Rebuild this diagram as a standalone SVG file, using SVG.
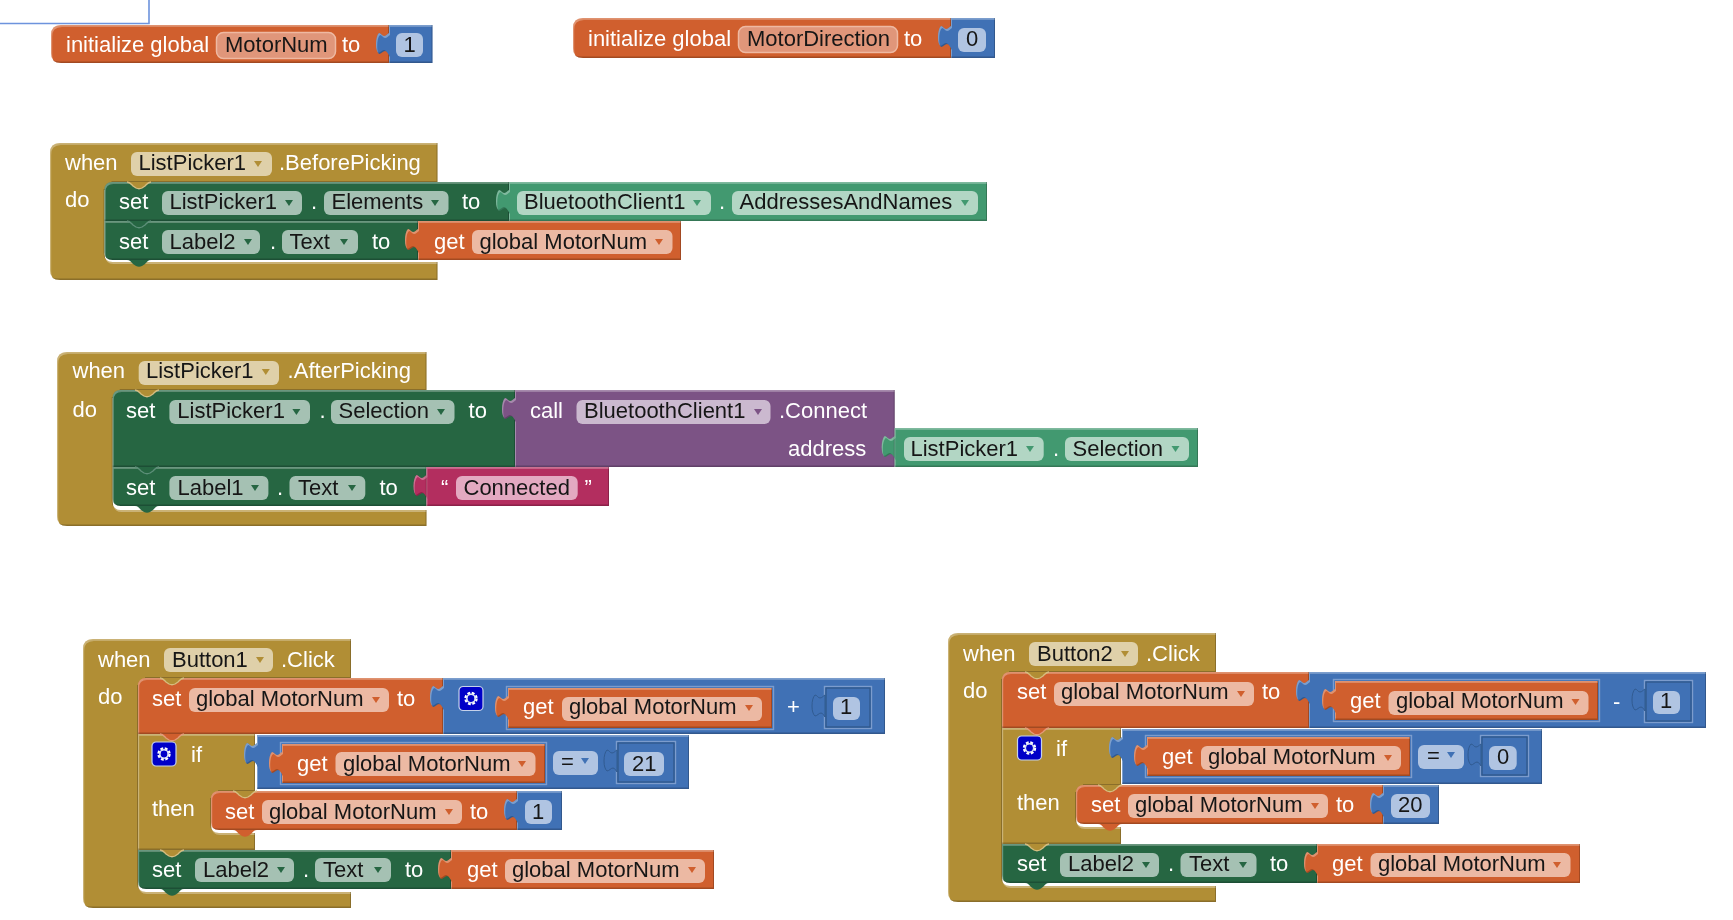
<svg xmlns="http://www.w3.org/2000/svg" width="1733" height="920" viewBox="0 0 1733 920">
<style>
text{font-family:"Liberation Sans",Arial,sans-serif;font-size:22px}
.w{fill:#fff}.k{fill:#161616}
.or{fill:#d05f2d}.bl{fill:#3f71b5}.go{fill:#b18e35}.dg{fill:#266643}.lg{fill:#439970}.pu{fill:#7c5385}.pk{fill:#b32d5e}
.s{filter:url(#bv)}
.por{fill:#ecb9a3}.pbl{fill:#b0c4e2}.pgo{fill:#dfd0a9}.pdg{fill:#a5c1b3}.plg{fill:#b2d6c4}.ppu{fill:#cbb9cf}.ppk{fill:#e3a9c1}
.pin{fill:#e0967a;stroke:#eeb9a2;stroke-width:1.5}
.ao{fill:#d05f2d}.ab{fill:#3f71b5}.ag{fill:#b18e35}.ad{fill:#266643}.al{fill:#439970}.ap{fill:#7c5385}
.ins{fill:none;stroke:#2e5688;stroke-width:1.2}
.ins2{fill:none;stroke:#7c9ccd;stroke-width:1.4}
.nd{stroke:#5d8f78;stroke-width:1.3}.no{stroke:#e39a7a;stroke-width:1.3}.ng{stroke:#d5bd80;stroke-width:1.3}
</style>
<defs>
<filter id="bv" x="-3%" y="-6%" width="106%" height="112%" color-interpolation-filters="sRGB">
<feOffset in="SourceAlpha" dx="1.2" dy="1.8" result="o1"/>
<feComposite in="SourceAlpha" in2="o1" operator="out" result="e1"/>
<feFlood flood-color="#fff" flood-opacity=".32"/>
<feComposite in2="e1" operator="in" result="hl"/>
<feOffset in="SourceAlpha" dx="-1" dy="-1.5" result="o2"/>
<feComposite in="SourceAlpha" in2="o2" operator="out" result="e2"/>
<feFlood flood-color="#000" flood-opacity=".22"/>
<feComposite in2="e2" operator="in" result="sh"/>
<feMerge><feMergeNode in="SourceGraphic"/><feMergeNode in="hl"/><feMergeNode in="sh"/></feMerge>
</filter>
<filter id="soft" x="0" y="0" width="100%" height="100%" filterUnits="userSpaceOnUse" primitiveUnits="userSpaceOnUse"><feGaussianBlur stdDeviation=".45"/></filter>
<path id="tab" d="M0,8 C-2,9 -3,11 -5,11 C-7,11 -8,8 -10,8 C-12,10 -13,14 -13,19 C-13,24 -12,27 -10,29 C-8,29 -6,26 -4,26 C-2,26 -1,29 0,30 z"/>
<path id="bump" d="M0,0 C3,0 4,2 6,4 L9,6 C11,7 13,7 15,6 L18,4 C20,2 21,0 24,0"/>
<path id="ar" d="M-4,-3 H4 L0,3 z"/>
<g id="gear"><rect x="0" y="0" width="24" height="24" rx="4" fill="#0000c8" stroke="#c6d2ea" stroke-width="1.2"/><circle cx="12" cy="12" r="5.2" fill="none" stroke="#fff" stroke-width="3" stroke-dasharray="2.6 1.5"/><circle cx="12" cy="12" r="4.2" fill="none" stroke="#d8e0f4" stroke-width="1.6"/></g>
</defs>
<g filter="url(#soft)">
<rect width="1733" height="920" fill="#fff"/>
<path d="M0,23.5 H149 V0" fill="none" stroke="#6d93dd" stroke-width="1.6"/>

<g id="init-motornum">
<path class="s or" d="M61,25 H389 V63 H61 Q51,63 51,53 V35 Q51,25 61,25z"/>
<g class="s bl"><rect x="389" y="25" width="43.5" height="38"/><use href="#tab" x="389" y="25"/></g>
<text class="w" x="66" y="52">initialize global</text>
<rect class="pin" x="216.500" y="32.500" width="119" height="26" rx="7"/>
<text class="k" x="225" y="52">MotorNum</text>
<text class="w" x="342" y="52">to</text>
<rect class="pbl" x="396" y="33" width="27" height="24" rx="6"/>
<text class="k" x="403.500" y="52">1</text>
</g>

<g id="init-motordirection">
<path class="s or" d="M583,18 H951 V58 H583 Q573,58 573,48 V28 Q573,18 583,18z"/>
<g class="s bl"><rect x="951" y="18" width="44" height="40"/><use href="#tab" x="951" y="18"/></g>
<text class="w" x="588" y="46">initialize global</text>
<rect class="pin" x="738.500" y="26.500" width="159" height="26" rx="7"/>
<text class="k" x="747" y="46">MotorDirection</text>
<text class="w" x="904" y="46">to</text>
<rect class="pbl" x="958" y="28" width="28" height="24" rx="6"/>
<text class="k" x="966" y="46">0</text>
</g>

<g id="when-beforepicking">
<path class="s go" d="M60,143 H437.500 V182 H112.500 V190 H104.500 V254 Q104.500,262 112.500,262 H437.500 V280 H60 Q50,280 50,270 V153 Q50,143 60,143z"/>
<text class="w" x="65" y="170">when</text>
<rect class="pgo" x="131" y="152" width="141" height="24" rx="6"/>
<text class="k" x="138.500" y="170">ListPicker1</text>
<use href="#ar" class="ag" x="258" y="164"/>
<text class="w" x="279" y="170">.BeforePicking</text>
<text class="w" x="65" y="207">do</text>
<path class="s dg" d="M112.500,182 H509 V221 H104.500 V190 Q104.500,182 112.500,182z"/>
<g class="s lg"><rect x="509" y="182" width="478" height="39"/><use href="#tab" x="509" y="182"/></g>
<use href="#bump" x="127" y="182" class="go ng"/>
<text class="w" x="119" y="209">set</text>
<rect class="pdg" x="162" y="191" width="140" height="24" rx="6"/>
<text class="k" x="169.500" y="209">ListPicker1</text>
<use href="#ar" class="ad" x="289" y="203"/>
<text class="w" x="311" y="209">.</text>
<rect class="pdg" x="324" y="191" width="124.500" height="24" rx="6"/>
<text class="k" x="331.500" y="209">Elements</text>
<use href="#ar" class="ad" x="435" y="203"/>
<text class="w" x="462" y="209">to</text>
<rect class="plg" x="517" y="191" width="194" height="24" rx="6"/>
<text class="k" x="524" y="209">BluetoothClient1</text>
<use href="#ar" class="al" x="697" y="203"/>
<text class="w" x="719" y="209">.</text>
<rect class="plg" x="732" y="191" width="246" height="24" rx="6"/>
<text class="k" x="739.500" y="209">AddressesAndNames</text>
<use href="#ar" class="al" x="965" y="203"/>
<path class="s dg" d="M104.500,221 H418 V260 H112.500 Q104.500,260 104.500,252z"/>
<g class="s or"><rect x="418" y="221" width="263" height="39"/><use href="#tab" x="418" y="221"/></g>
<use href="#bump" x="127" y="221" class="dg nd"/>
<use href="#bump" x="127" y="260" class="dg"/>
<text class="w" x="119" y="248.500">set</text>
<rect class="pdg" x="162" y="230" width="98" height="24" rx="6"/>
<text class="k" x="169.500" y="248.500">Label2</text>
<use href="#ar" class="ad" x="248" y="242"/>
<text class="w" x="270" y="248.500">.</text>
<rect class="pdg" x="282" y="230" width="76" height="24" rx="6"/>
<text class="k" x="289.500" y="248.500">Text</text>
<use href="#ar" class="ad" x="344" y="242"/>
<text class="w" x="372" y="248.500">to</text>
<text class="w" x="434" y="248.500">get</text>
<rect class="por" x="472" y="230" width="200.500" height="24" rx="6"/>
<text class="k" x="479.500" y="248.500">global MotorNum</text>
<use href="#ar" class="ao" x="659" y="242"/>
</g>

<g id="when-afterpicking">
<path class="s go" d="M67,352 H426.500 V390 H120.700 V398 H112.700 V502 Q112.700,510 120.700,510 H426.500 V526 H67 Q57,526 57,516 V362 Q57,352 67,352z"/>
<text class="w" x="72.500" y="378">when</text>
<rect class="pgo" x="138.700" y="361" width="140.300" height="24" rx="6"/>
<text class="k" x="146" y="378">ListPicker1</text>
<use href="#ar" class="ag" x="265.800" y="372"/>
<text class="w" x="287.600" y="378">.AfterPicking</text>
<text class="w" x="72.500" y="417">do</text>
<path class="s dg" d="M120.700,390 H515 V467 H112.700 V398 Q112.700,390 120.700,390z"/>
<g class="s pu"><rect x="515" y="390" width="379.700" height="77"/><use href="#tab" x="515" y="390"/></g>
<g class="s lg"><rect x="894.700" y="428" width="303.300" height="39"/><use href="#tab" x="894.700" y="428"/></g>
<use href="#bump" x="135" y="390" class="go ng"/>
<text class="w" x="126" y="418">set</text>
<rect class="pdg" x="169.400" y="400" width="140.600" height="24" rx="6"/>
<text class="k" x="177.300" y="418">ListPicker1</text>
<use href="#ar" class="ad" x="296.400" y="412"/>
<text class="w" x="319.400" y="418">.</text>
<rect class="pdg" x="331" y="400" width="123.500" height="24" rx="6"/>
<text class="k" x="338.500" y="418">Selection</text>
<use href="#ar" class="ad" x="441" y="412"/>
<text class="w" x="468.600" y="418">to</text>
<text class="w" x="530" y="418">call</text>
<rect class="ppu" x="576.500" y="400" width="194" height="24" rx="6"/>
<text class="k" x="584" y="418">BluetoothClient1</text>
<use href="#ar" class="ap" x="758" y="412"/>
<text class="w" x="779" y="418">.Connect</text>
<text class="w" x="788" y="456">address</text>
<rect class="plg" x="904" y="437" width="139.700" height="24" rx="6"/>
<text class="k" x="910.500" y="456">ListPicker1</text>
<use href="#ar" class="al" x="1030" y="449"/>
<text class="w" x="1053" y="456">.</text>
<rect class="plg" x="1065" y="437" width="124" height="24" rx="6"/>
<text class="k" x="1072.500" y="456">Selection</text>
<use href="#ar" class="al" x="1175.500" y="449"/>
<path class="s dg" d="M112.700,467 H426.500 V506 H120.700 Q112.700,506 112.700,498z"/>
<g class="s pk"><rect x="426.500" y="467" width="182.500" height="39"/><use href="#tab" x="426.500" y="467"/></g>
<use href="#bump" x="135" y="467" class="dg nd"/>
<use href="#bump" x="135" y="506" class="dg"/>
<text class="w" x="126" y="494.500">set</text>
<rect class="pdg" x="169.400" y="476" width="99" height="24" rx="6"/>
<text class="k" x="177.500" y="494.500">Label1</text>
<use href="#ar" class="ad" x="255" y="488"/>
<text class="w" x="277" y="494.500">.</text>
<rect class="pdg" x="289.500" y="476" width="75.800" height="24" rx="6"/>
<text class="k" x="298" y="494.500">Text</text>
<use href="#ar" class="ad" x="352" y="488"/>
<text class="w" x="379.500" y="494.500">to</text>
<text class="w" x="441" y="494.500">“</text>
<rect class="ppk" x="456" y="476" width="121.700" height="24" rx="6"/>
<text class="k" x="463.500" y="494.500">Connected</text>
<text class="w" x="584.500" y="494.500">”</text>
</g>

<g id="when-button1">
<path class="s go" d="M93,639 H351 V678 H146 V686 H138 V884 Q138,892 146,892 H351 V908 H93 Q83,908 83,898 V649 Q83,639 93,639z"/>
<text class="w" x="98" y="667">when</text>
<rect class="pgo" x="164" y="648" width="109" height="24" rx="6"/>
<text class="k" x="172" y="667">Button1</text>
<use href="#ar" class="ag" x="260" y="660"/>
<text class="w" x="281" y="667">.Click</text>
<text class="w" x="98" y="704">do</text>
<path class="s or" d="M146,678 H443 V734 H138 V686 Q138,678 146,678z"/>
<path class="s go" d="M138,734 H255 V791 H219 V799 H211 V825 Q211,833 219,833 H255 V850 H138z"/>
<g class="s bl"><rect x="443" y="678" width="442" height="56"/><use href="#tab" x="443" y="678"/></g>
<use href="#bump" x="160" y="678" class="go ng"/>
<use href="#bump" x="160" y="734" class="or no"/>
<text class="w" x="152" y="706">set</text>
<rect class="por" x="189" y="688" width="200" height="24" rx="6"/>
<text class="k" x="196" y="706">global MotorNum</text>
<use href="#ar" class="ao" x="376" y="700"/>
<text class="w" x="397" y="706">to</text>
<use href="#gear" x="459" y="686.500"/>
<rect class="ins2" x="506.500" y="686.500" width="267" height="43"/>
<g class="s or"><rect x="508" y="688" width="264" height="40"/><use href="#tab" x="508" y="688"/></g>
<text class="w" x="523" y="714">get</text>
<rect class="por" x="562" y="697" width="200" height="24" rx="6"/>
<text class="k" x="569" y="714">global MotorNum</text>
<use href="#ar" class="ao" x="749" y="708"/>
<text class="w" x="787" y="714">+</text>
<rect class="ins2" x="824.500" y="686.500" width="47" height="42"/>
<rect class="ins" x="826" y="688" width="44" height="39"/>
<use href="#tab" x="825" y="687" class="bl" stroke="#2e5688" stroke-width=".8"/>
<rect class="pbl" x="833" y="697" width="27" height="23" rx="6"/>
<text class="k" x="840" y="714">1</text>

<use href="#gear" x="152" y="742"/>
<text class="w" x="191" y="762">if</text>
<text class="w" x="152" y="815.500">then</text>
<g class="s bl"><rect x="257" y="735" width="432" height="54"/><use href="#tab" x="257" y="735"/></g>
<rect class="ins2" x="280.500" y="742.500" width="266" height="42"/>
<g class="s or"><rect x="282" y="744" width="263" height="39"/><use href="#tab" x="282" y="744"/></g>
<text class="w" x="297" y="770.500">get</text>
<rect class="por" x="335.500" y="752" width="200" height="24" rx="6"/>
<text class="k" x="343" y="770.500">global MotorNum</text>
<use href="#ar" class="ao" x="522" y="764"/>
<rect class="pbl" x="553" y="751" width="45" height="24" rx="6"/>
<text class="k" x="561" y="769">=</text>
<use href="#ar" class="ab" x="585" y="761"/>
<rect class="ins2" x="616.500" y="741.500" width="59" height="42"/>
<rect class="ins" x="618" y="743" width="56" height="39"/>
<use href="#tab" x="617" y="742" class="bl" stroke="#2e5688" stroke-width=".8"/>
<rect class="pbl" x="624" y="752" width="40" height="24" rx="6"/>
<text class="k" x="632" y="770.500">21</text>

<path class="s or" d="M219,791 H517 V830 H219 Q211,830 211,822 V799 Q211,791 219,791z"/>
<g class="s bl"><rect x="517" y="791" width="45" height="39"/><use href="#tab" x="517" y="791"/></g>
<use href="#bump" x="233" y="791" class="go ng"/>
<use href="#bump" x="233" y="830" class="or"/>
<text class="w" x="225" y="818.500">set</text>
<rect class="por" x="262" y="800" width="200" height="24" rx="6"/>
<text class="k" x="269" y="818.500">global MotorNum</text>
<use href="#ar" class="ao" x="449" y="812"/>
<text class="w" x="470" y="818.500">to</text>
<rect class="pbl" x="525" y="800" width="27" height="24" rx="6"/>
<text class="k" x="532" y="818.500">1</text>

<path class="s dg" d="M138,850 H451 V889 H146 Q138,889 138,881z"/>
<g class="s or"><rect x="451" y="850" width="263" height="39"/><use href="#tab" x="451" y="850"/></g>
<use href="#bump" x="160" y="850" class="go ng"/>
<use href="#bump" x="160" y="889" class="dg"/>
<text class="w" x="152" y="877">set</text>
<rect class="pdg" x="195" y="858" width="99" height="24" rx="6"/>
<text class="k" x="203" y="877">Label2</text>
<use href="#ar" class="ad" x="281" y="870"/>
<text class="w" x="303" y="877">.</text>
<rect class="pdg" x="315" y="858" width="76" height="24" rx="6"/>
<text class="k" x="323" y="877">Text</text>
<use href="#ar" class="ad" x="378" y="870"/>
<text class="w" x="405" y="877">to</text>
<text class="w" x="467" y="877">get</text>
<rect class="por" x="505" y="859" width="200" height="24" rx="6"/>
<text class="k" x="512" y="877">global MotorNum</text>
<use href="#ar" class="ao" x="692" y="870"/>
</g>

<g id="when-button2">
<path class="s go" d="M958,633 H1216 V672 H1010 V680 H1002 V878 Q1002,886 1010,886 H1216 V902 H958 Q948,902 948,892 V643 Q948,633 958,633z"/>
<text class="w" x="963" y="661">when</text>
<rect class="pgo" x="1029" y="642" width="109" height="24" rx="6"/>
<text class="k" x="1037" y="661">Button2</text>
<use href="#ar" class="ag" x="1125" y="654"/>
<text class="w" x="1146" y="661">.Click</text>
<text class="w" x="963" y="698">do</text>
<path class="s or" d="M1010,672 H1309 V728 H1002 V680 Q1002,672 1010,672z"/>
<path class="s go" d="M1002,728 H1121 V785 H1084 V793 H1076 V819 Q1076,827 1084,827 H1121 V844 H1002z"/>
<g class="s bl"><rect x="1309" y="672" width="397" height="56"/><use href="#tab" x="1309" y="672"/></g>
<use href="#bump" x="1025" y="672" class="go ng"/>
<use href="#bump" x="1025" y="728" class="or no"/>
<text class="w" x="1017" y="699">set</text>
<rect class="por" x="1054" y="682" width="200" height="24" rx="6"/>
<text class="k" x="1061" y="699">global MotorNum</text>
<use href="#ar" class="ao" x="1241" y="694"/>
<text class="w" x="1262" y="699">to</text>
<rect class="ins2" x="1333.500" y="679.500" width="266" height="42"/>
<g class="s or"><rect x="1335" y="681" width="263" height="39"/><use href="#tab" x="1335" y="681"/></g>
<text class="w" x="1350" y="708">get</text>
<rect class="por" x="1388.500" y="691" width="200" height="24" rx="6"/>
<text class="k" x="1396" y="708">global MotorNum</text>
<use href="#ar" class="ao" x="1575.500" y="702"/>
<text class="w" x="1613" y="709">-</text>
<rect class="ins2" x="1644.500" y="680.500" width="48" height="42"/>
<rect class="ins" x="1646" y="682" width="45" height="39"/>
<use href="#tab" x="1645" y="681" class="bl" stroke="#2e5688" stroke-width=".8"/>
<rect class="pbl" x="1653" y="691" width="27" height="23" rx="6"/>
<text class="k" x="1660" y="708">1</text>

<use href="#gear" x="1017.500" y="736"/>
<text class="w" x="1056" y="755.500">if</text>
<text class="w" x="1017" y="810">then</text>
<g class="s bl"><rect x="1122" y="729" width="420" height="55"/><use href="#tab" x="1122" y="729"/></g>
<rect class="ins2" x="1145.500" y="735.500" width="266" height="42"/>
<g class="s or"><rect x="1147" y="737" width="263" height="39"/><use href="#tab" x="1147" y="737"/></g>
<text class="w" x="1162" y="764">get</text>
<rect class="por" x="1201" y="746" width="200" height="24" rx="6"/>
<text class="k" x="1208" y="764">global MotorNum</text>
<use href="#ar" class="ao" x="1388" y="758"/>
<rect class="pbl" x="1418" y="745" width="46" height="24" rx="6"/>
<text class="k" x="1427" y="763">=</text>
<use href="#ar" class="ab" x="1451" y="755"/>
<rect class="ins2" x="1480.500" y="735.500" width="48" height="41"/>
<rect class="ins" x="1482" y="737" width="45" height="38"/>
<use href="#tab" x="1481" y="736" class="bl" stroke="#2e5688" stroke-width=".8"/>
<rect class="pbl" x="1489" y="746" width="27.700" height="24" rx="6"/>
<text class="k" x="1497" y="764">0</text>

<path class="s or" d="M1084,785 H1383 V824 H1084 Q1076,824 1076,816 V793 Q1076,785 1084,785z"/>
<g class="s bl"><rect x="1383" y="785" width="56" height="39"/><use href="#tab" x="1383" y="785"/></g>
<use href="#bump" x="1098" y="785" class="go ng"/>
<use href="#bump" x="1098" y="824" class="or"/>
<text class="w" x="1091" y="812">set</text>
<rect class="por" x="1128" y="794" width="200" height="24" rx="6"/>
<text class="k" x="1135" y="812">global MotorNum</text>
<use href="#ar" class="ao" x="1315" y="806"/>
<text class="w" x="1336" y="812">to</text>
<rect class="pbl" x="1391" y="794" width="39" height="24" rx="6"/>
<text class="k" x="1398" y="812">20</text>

<path class="s dg" d="M1002,844 H1317 V883 H1010 Q1002,883 1002,875z"/>
<g class="s or"><rect x="1317" y="844" width="263" height="39"/><use href="#tab" x="1317" y="844"/></g>
<use href="#bump" x="1025" y="844" class="go ng"/>
<use href="#bump" x="1025" y="883" class="dg"/>
<text class="w" x="1017" y="870.500">set</text>
<rect class="pdg" x="1060" y="853" width="99" height="24" rx="6"/>
<text class="k" x="1068" y="870.500">Label2</text>
<use href="#ar" class="ad" x="1146" y="865"/>
<text class="w" x="1168" y="870.500">.</text>
<rect class="pdg" x="1180.500" y="853" width="76" height="24" rx="6"/>
<text class="k" x="1189" y="870.500">Text</text>
<use href="#ar" class="ad" x="1243" y="865"/>
<text class="w" x="1270" y="870.500">to</text>
<text class="w" x="1332" y="870.500">get</text>
<rect class="por" x="1370.500" y="853" width="200" height="24" rx="6"/>
<text class="k" x="1378" y="870.500">global MotorNum</text>
<use href="#ar" class="ao" x="1557" y="865"/>
</g>
</g>
</svg>
